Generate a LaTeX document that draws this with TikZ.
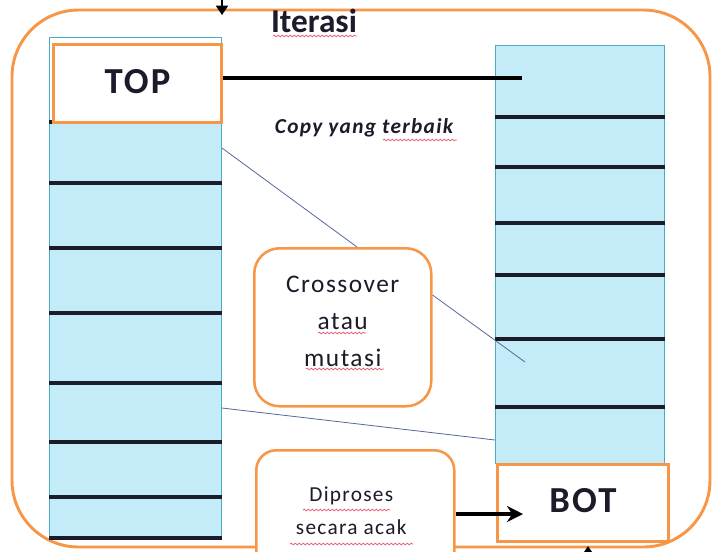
\documentclass[tikz,border=0pt]{standalone}
\usepackage{fontspec}
\setmainfont{Carlito}
\newfontfamily\spaced[LetterSpace=6]{Carlito}
\usetikzlibrary{arrows.meta,decorations.pathmorphing}

\definecolor{frameorange}{HTML}{F79646}
\definecolor{cellblue}{HTML}{C3EBF8}
\definecolor{celledge}{HTML}{4BACC6}
\definecolor{linkblue}{HTML}{55679A}
\definecolor{inkdark}{HTML}{1B1B2A}
\definecolor{squigred}{HTML}{E8607A}

\begin{document}
\begin{tikzpicture}[x=0.75pt,y=-0.75pt,
  outerframe/.style={draw=frameorange,line width=2.2pt,rounded corners=50pt},
  column/.style={draw=celledge,line width=0.7pt,inner sep=0pt,anchor=north west},
  separator/.style={draw=inkdark,line width=2.5pt},
  endbox/.style={draw=frameorange,line width=2.2pt,fill=white,inner sep=0pt,
    anchor=north west,text=inkdark,font=\spaced\bfseries\fontsize{27.5}{30}\selectfont},
  notebox/.style={draw=frameorange,line width=1.9pt,fill=white,inner sep=0pt,anchor=north west},
  notetext/.style={align=center,text=inkdark,inner sep=0pt},
  link/.style={draw=linkblue,line width=0.6pt},
  flow/.style={draw=black,line width=2.4pt,-{Stealth[length=12pt,width=12pt]}},
  squiggle/.style={draw=squigred,line width=0.6pt,decorate,
    decoration={snake,amplitude=0.6pt,segment length=3pt}}]

\useasboundingbox (0,0) rectangle (713,551);

% rounded frame around the whole scheme
\draw[outerframe] (12,10) rectangle (710,547);

% arrow entering from above and title
\coordinate (iterfrom) at (222,-20);
\coordinate (iterto) at (222,15);
\draw[line width=1.5pt,-{Triangle[length=7pt,width=9pt]}] (iterfrom) -- (iterto);
\node[anchor=base,text=inkdark,font=\bfseries\fontsize{25}{28}\selectfont] (iter) at (314,32) {Iterasi};
\draw[squiggle] (273,36) -- (357,36);

% left population column
\fill[cellblue] (49,121) rectangle (221,539);
\node[column,minimum width=129pt,minimum height=376.5pt] (lcol) at (49,37) {};
\foreach \yy in {122,183,248,313,383,442,497,538}
  \draw[separator] (lcol.west |- 0,\yy) -- (lcol.east |- 0,\yy);

% right population column
\node[column,fill=cellblue,minimum width=126.75pt,minimum height=313.5pt] (rcol) at (495,45) {};
\foreach \yy in {117,167,223,275,339,407}
  \draw[separator] (rcol.west |- 0,\yy) -- (rcol.east |- 0,\yy);

% best and worst individuals
\node[endbox,minimum width=126pt,minimum height=58.5pt] (top) at (52,43) {\raisebox{2.5pt}{TOP}};
\node[endbox,minimum width=128.25pt,minimum height=57.75pt] (bot) at (496,463) {\raisebox{4pt}{BOT}};

% copy of the best individual
\coordinate (topend) at (522,78);
\draw[draw=black,line width=2.4pt] (top.east |- topend) -- (topend);
\node[text=inkdark,font=\spaced\bfseries\itshape\fontsize{16}{19}\selectfont] (copy) at (364,128) {Copy yang terbaik};
\draw[squiggle] (383,140) -- (457,140);

% crossover / mutation step
\node[notebox,rounded corners=19pt,minimum width=132.75pt,minimum height=118.5pt] (cross) at (253,247) {};
\node[notetext,font=\spaced\fontsize{19}{28}\selectfont] (crosstext) at ([yshift=4.5pt]cross.center) {Crossover\\atau\\mutasi};
\draw[squiggle] (318,333) -- (366,333);
\draw[squiggle] (306,369) -- (384,369);

\coordinate (crossend) at (525,362);
\draw[link] (lcol.east |- 0,148) -- (cross.north -| 357,0);
\draw[link] (cross.east |- 0,295) -- (crossend);
\draw[link] (lcol.east |- 0,408) -- (rcol.west |- 0,440);

% random processing step
\node[notebox,rounded corners=15pt,minimum width=148.5pt,minimum height=96pt] (dip) at (255,449) {};
\node[notetext,font=\spaced\fontsize{16}{25}\selectfont] (diptext) at ([xshift=-3pt,yshift=-3pt]dip.center |- 0,507) {Diproses\\secara acak};
\draw[squiggle] (303,510) -- (390,510);
\draw[squiggle] (290,544) -- (413,544);

\coordinate (botin) at (523,514);
\draw[flow] (dip.east |- botin) -- (botin);

% arrow leaving below
\coordinate (belowfrom) at (588,580);
\coordinate (belowto) at (588,546);
\draw[line width=1.5pt,-{Triangle[length=7pt,width=9pt]}] (belowfrom) -- (belowto);

\end{tikzpicture}
\end{document}
